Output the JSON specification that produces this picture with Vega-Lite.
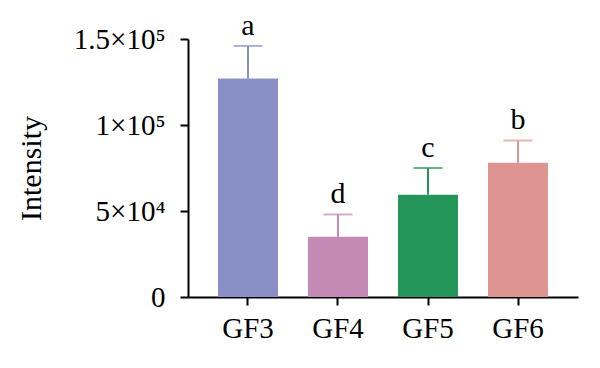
{
  "$schema": "https://vega.github.io/schema/vega-lite/v6.json",
  "autosize": "none",
  "width": 390,
  "height": 258,
  "padding": {"left": 188, "top": 39, "right": 22, "bottom": 71},
  "background": "white",
  "config": {
    "view": {"stroke": null},
    "font": "Liberation Serif",
    "axis": {"domainColor": "black", "tickColor": "black", "domainWidth": 2, "tickWidth": 2, "grid": false, "labelColor": "black", "titleColor": "black", "labelFont": "Liberation Serif", "titleFont": "Liberation Serif", "labelFontSize": 29, "titleFontSize": 30, "titleFontWeight": "normal"}
  },
  "data": {"values": [
    {"group": "GF3", "mean": 127000, "upper": 146000, "letter": "a"},
    {"group": "GF4", "mean": 35000, "upper": 48000, "letter": "d"},
    {"group": "GF5", "mean": 59500, "upper": 75000, "letter": "c"},
    {"group": "GF6", "mean": 78000, "upper": 91000, "letter": "b"}
  ]},
  "encoding": {
    "x": {"field": "group", "type": "nominal", "sort": null,
      "scale": {"paddingInner": 0.3333, "paddingOuter": 0.3333},
      "axis": {"title": null, "labelAngle": 0, "tickSize": 8, "labelPadding": 9}},
    "color": {"field": "group", "type": "nominal", "legend": null,
      "scale": {"domain": ["GF3", "GF4", "GF5", "GF6"], "range": ["#8890c6", "#c48ab5", "#24965a", "#de9592"]}}
  },
  "layer": [
    {"mark": {"type": "rule", "strokeWidth": 2},
     "encoding": {"y": {"field": "mean", "type": "quantitative"}, "y2": {"field": "upper"}}},
    {"mark": {"type": "tick", "size": 29, "thickness": 2, "orient": "horizontal"},
     "encoding": {"y": {"field": "upper", "type": "quantitative"}}},
    {"mark": {"type": "bar", "width": 60},
     "encoding": {"y": {"field": "mean", "type": "quantitative",
       "scale": {"domain": [0, 150000], "nice": false},
       "axis": {"title": "Intensity", "values": [0, 50000, 100000, 150000], "tickSize": 8, "labelPadding": 15, "titlePadding": 27,
         "labelExpr": "datum.value == 0 ? '0' : datum.value == 50000 ? '5×10⁴' : datum.value == 100000 ? '1×10⁵' : '1.5×10⁵'"}}}},
    {"mark": {"type": "text", "fontSize": 30, "dy": -11, "baseline": "alphabetic", "color": "black"},
     "encoding": {"y": {"field": "upper", "type": "quantitative"}, "text": {"field": "letter"}, "color": {"value": "black"}}}
  ]
}
